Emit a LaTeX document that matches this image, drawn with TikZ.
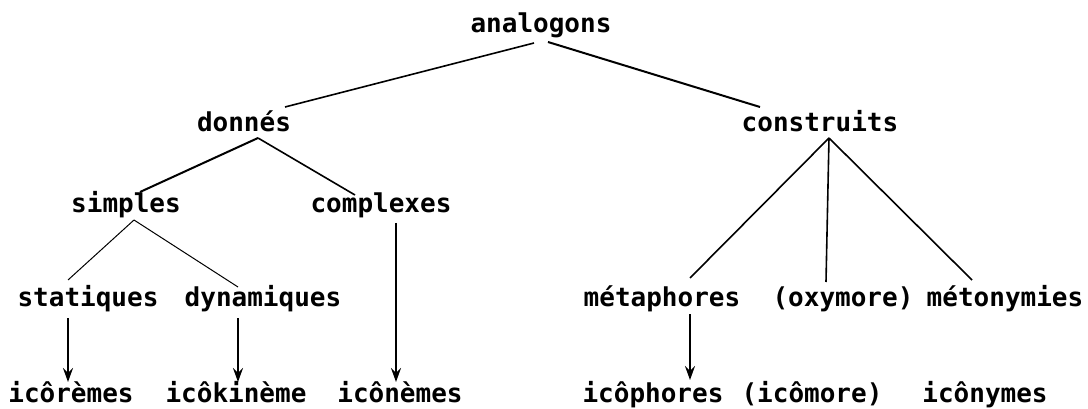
\documentclass[tikz,border=0pt]{standalone}
\usepackage{fontspec}
\newfontfamily\twfont{DejaVu Sans Mono}
\usetikzlibrary{calc,arrows.meta}
\tikzset{
  lbl/.style={anchor=base,inner sep=0pt,font=\twfont\bfseries\fontsize{26}{30}\selectfont},
  thickline/.style={line width=2pt},
  medline/.style={line width=1.6pt},
  thinline/.style={line width=1pt},
  arr/.style={line width=2.2pt,-{Stealth[length=14pt,width=10pt,inset=5pt]}}
}
\begin{document}
\begin{tikzpicture}[x=1pt,y=-1pt]
\useasboundingbox (0,0) rectangle (1088,409);
% nodes
\node[lbl] (analogons) at (541,33) {analogons};
\node[lbl] (donnes) at (244,132) {donnés};
\node[lbl] (construits) at (820,132) {construits};
\node[lbl] (simples) at (126,213) {simples};
\node[lbl] (complexes) at (381,213) {complexes};
\node[lbl] (statiques) at (88,306) {statiques};
\node[lbl] (dynamiques) at (263,306) {dynamiques};
\node[lbl] (metaphores) at (662,306) {métaphores};
\node[lbl] (oxymore) at (843,306) {(oxymore)};
\node[lbl] (metonymies) at (1005,306) {métonymies};
\node[lbl] (icoremes) at (71,402) {icôrèmes};
\node[lbl] (icokineme) at (236,402) {icôkinème};
\node[lbl] (iconemes) at (400,402) {icônèmes};
\node[lbl] (icophores) at (653,402) {icôphores};
\node[lbl] (icomore) at (812,402) {(icômore)};
\node[lbl] (iconymes) at (985,402) {icônymes};
% tree lines
\draw[medline] ($(analogons.base)+(-7,10)$) -- ($(donnes.base)+(41,-25)$);
\draw[thickline] ($(analogons.base)+(7,9)$) -- ($(construits.base)+(-60,-25)$);
\draw[thickline] ($(donnes.base)+(14,6)$) -- ($(simples.base)+(14,-21)$);
\draw[medline] ($(donnes.base)+(14,6)$) -- ($(complexes.base)+(-26,-18)$);
\draw[thinline] ($(simples.base)+(8,7)$) -- ($(statiques.base)+(-20,-26)$);
\draw[thinline] ($(simples.base)+(8,7)$) -- ($(dynamiques.base)+(-25,-19)$);
\draw[medline] ($(construits.base)+(9,6)$) -- ($(metaphores.base)+(28,-28)$);
\draw[medline] ($(construits.base)+(9,6)$) -- ($(oxymore.base)+(-17,-24)$);
\draw[medline] ($(construits.base)+(9,6)$) -- ($(metonymies.base)+(-33,-26)$);
% arrows
\draw[arr] ($(statiques.base)+(-20,12)$) -- ($(icoremes.base)+(-3,-20)$);
\draw[arr] ($(dynamiques.base)+(-25,12)$) -- ($(icokineme.base)+(2,-20)$);
\draw[arr] ($(complexes.base)+(15,10)$) -- ($(iconemes.base)+(-4,-20)$);
\draw[arr] ($(metaphores.base)+(28,8)$) -- ($(icophores.base)+(37,-22)$);
\end{tikzpicture}
\end{document}
